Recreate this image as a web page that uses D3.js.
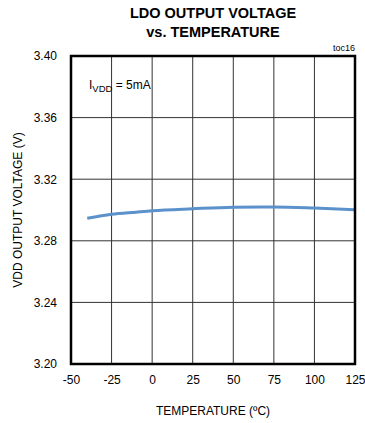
<!DOCTYPE html>
<html>
<head>
<meta charset="utf-8">
<script src="https://cdn.jsdelivr.net/npm/d3@7"></script>
<style>
  html, body { margin: 0; padding: 0; background: #fff; }
  svg { display: block; }
  text { font-family: "Liberation Sans Narrow", "Arial Narrow", "Liberation Sans", Arial, sans-serif; fill: #000; }
</style>
</head>
<body>
<svg id="chart" width="365" height="423"></svg>
<script>
// LDO output voltage across temperature, IVDD = 5mA
const temperature = [-40, -25, -10, 0, 25, 50, 75, 100, 125];
const voltage = [3.2946, 3.2972, 3.2986, 3.2995, 3.3008, 3.3018, 3.3020, 3.3013, 3.3002];

const xTicks = [-50, -25, 0, 25, 50, 75, 100, 125];
const yTicks = [3.20, 3.24, 3.28, 3.32, 3.36, 3.40];

const margin = { left: 71, right: 10, top: 56, bottom: 59 };
const width = 365, height = 423;
const fontStack = "\"Liberation Sans Narrow\", \"Arial Narrow\", \"Liberation Sans\", Arial, sans-serif";

const svg = d3.select("#chart");

const x = d3.scaleLinear().domain([-50, 125]).range([margin.left, width - margin.right]);
const y = d3.scaleLinear().domain([3.20, 3.40]).range([height - margin.bottom, margin.top]);

// grid
const grid = svg.append("g");
grid.selectAll("line.v").data(xTicks.slice(1, -1)).join("line")
  .attr("x1", d => x(d)).attr("x2", d => x(d))
  .attr("y1", y(3.40)).attr("y2", y(3.20))
  .attr("stroke", "#333").attr("stroke-width", 1);
grid.selectAll("line.h").data(yTicks.slice(1, -1)).join("line")
  .attr("x1", x(-50)).attr("x2", x(125))
  .attr("y1", d => y(d)).attr("y2", d => y(d))
  .attr("stroke", "#333").attr("stroke-width", 1);

// tick labels via axes (no tick lines or domain)
const xAxis = svg.append("g")
  .attr("transform", `translate(0,${y(3.20)})`)
  .call(d3.axisBottom(x).tickValues(xTicks).tickSize(0).tickPadding(11).tickFormat(d => String(d)));
xAxis.select(".domain").remove();
xAxis.selectAll("text").style("font-size", "12px").style("font-family", fontStack);

const yAxis = svg.append("g")
  .attr("transform", `translate(${x(-50)},0)`)
  .call(d3.axisLeft(y).tickValues(yTicks).tickSize(0).tickPadding(14).tickFormat(d => d.toFixed(2)));
yAxis.select(".domain").remove();
yAxis.selectAll("text").style("font-size", "12px").style("font-family", fontStack);

// data curve
const line = d3.line().x(d => x(d[0])).y(d => y(d[1])).curve(d3.curveMonotoneX);
svg.append("path")
  .datum(temperature.map((t, i) => [t, voltage[i]]))
  .attr("d", line)
  .attr("fill", "none")
  .attr("stroke", "#5b92cc")
  .attr("stroke-width", 3);

// plot frame
svg.append("rect")
  .attr("x", x(-50)).attr("y", y(3.40))
  .attr("width", x(125) - x(-50)).attr("height", y(3.20) - y(3.40))
  .attr("fill", "none").attr("stroke", "#000").attr("stroke-width", 2.5);

// titles
svg.append("text").attr("x", 213).attr("y", 18).attr("text-anchor", "middle")
  .style("font-size", "14.5px").style("font-weight", "bold").text("LDO OUTPUT VOLTAGE");
svg.append("text").attr("x", 213).attr("y", 37).attr("text-anchor", "middle")
  .style("font-size", "14.5px").style("font-weight", "bold").text("vs. TEMPERATURE");

svg.append("text").attr("x", 355).attr("y", 51).attr("text-anchor", "end")
  .style("font-size", "9px").text("toc16");

svg.append("text").attr("x", 213).attr("y", 415).attr("text-anchor", "middle")
  .style("font-size", "12px").text("TEMPERATURE (ºC)");

svg.append("text")
  .attr("transform", `translate(22,${(y(3.20) + y(3.40)) / 2}) rotate(-90)`)
  .attr("text-anchor", "middle")
  .style("font-size", "12px").text("VDD OUTPUT VOLTAGE (V)");

// condition label
const lbl = svg.append("text").attr("x", 89).attr("y", 89).style("font-size", "12px");
lbl.append("tspan").text("I");
lbl.append("tspan").attr("dy", 3).style("font-size", "9.5px").text("VDD");
lbl.append("tspan").attr("dy", -3).text(" = 5mA");
</script>
</body>
</html>
